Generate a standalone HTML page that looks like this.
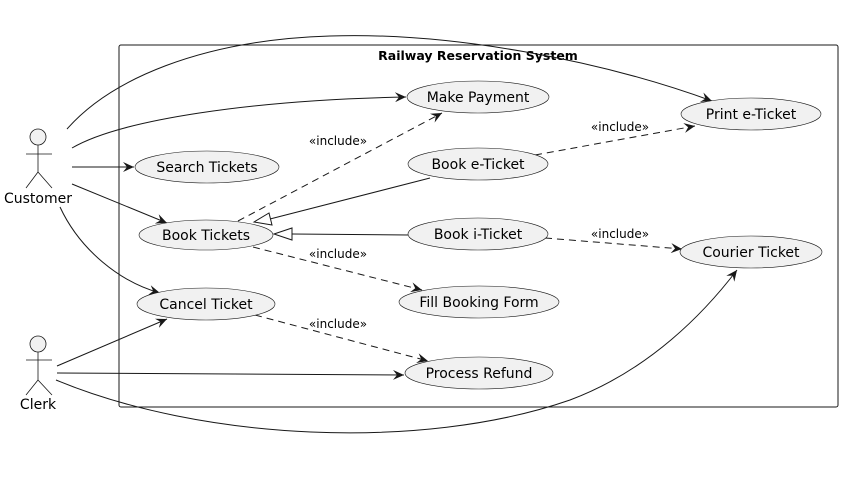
<!DOCTYPE html>
<html><head><meta charset="utf-8"><style>
html,body{margin:0;padding:0;background:#fff;width:843px;height:482px;overflow:hidden}
svg text{font-family:"DejaVu Sans","Liberation Sans",sans-serif}
</style></head><body>
<svg width="843" height="482" viewBox="0 0 843 482" xmlns="http://www.w3.org/2000/svg">
<defs>
<marker id="a" markerWidth="12" markerHeight="10" refX="11" refY="5" orient="auto" markerUnits="userSpaceOnUse">
<path d="M0,0 L11,5 L0,10 L4,5 Z" fill="#181818"/>
</marker>
</defs>
<rect x="119" y="45" width="719" height="362" rx="2" fill="none" stroke="#181818" stroke-width="1"/>
<text x="478" y="60" font-size="12.5" font-weight="bold" text-anchor="middle" fill="#000">Railway Reservation System</text>

<g fill="none" stroke="#181818" stroke-width="1">
<path d="M67,129 C110,80 200,40 330,36 C450,32 600,60 712,101" marker-end="url(#a)"/>
<path d="M72,148 C120,120 250,100 406,97" marker-end="url(#a)"/>
<path d="M72,167 L134,167" marker-end="url(#a)"/>
<path d="M72,184 L167,223" marker-end="url(#a)"/>
<path d="M60,207 C80,250 120,282 160,293" marker-end="url(#a)"/>
<path d="M57,366 L167,319" marker-end="url(#a)"/>
<path d="M57,373 L404,375" marker-end="url(#a)"/>
<path d="M56,380 C200,440 420,452 570,400 C650,370 705,312 737,270" marker-end="url(#a)"/>
<g stroke-dasharray="7,5">
<path d="M238,221 L442,113" marker-end="url(#a)"/>
<path d="M535,155 L695,126" marker-end="url(#a)"/>
<path d="M545,238 L682,249" marker-end="url(#a)"/>
<path d="M253,247 L422,290" marker-end="url(#a)"/>
<path d="M255,315 L428,361" marker-end="url(#a)"/>
</g>
<path d="M430,178 L270,219"/>
<path d="M254,222 L269,213 L272,225 Z" fill="#fff"/>
<path d="M409,235 L292,234"/>
<path d="M274,234 L292,228 L292,240 Z" fill="#fff"/>
</g>

<g font-size="12" fill="#000" text-anchor="middle">
<text x="338" y="145">«include»</text>
<text x="620" y="131">«include»</text>
<text x="620" y="238">«include»</text>
<text x="338" y="258">«include»</text>
<text x="338" y="328">«include»</text>
</g>

<g fill="#f1f1f1" stroke="#181818" stroke-width="0.6">
<ellipse cx="478" cy="97" rx="71" ry="16"/>
<ellipse cx="751" cy="114" rx="70" ry="16"/>
<ellipse cx="207" cy="167" rx="72" ry="16"/>
<ellipse cx="478" cy="164" rx="70" ry="16"/>
<ellipse cx="206" cy="235" rx="67" ry="15"/>
<ellipse cx="478" cy="234" rx="70" ry="16"/>
<ellipse cx="751" cy="252" rx="71" ry="16"/>
<ellipse cx="479" cy="302" rx="80" ry="16"/>
<ellipse cx="206" cy="304" rx="69" ry="16"/>
<ellipse cx="479" cy="373" rx="74" ry="16"/>
</g>
<g font-size="14" fill="#000" text-anchor="middle">
<text x="478" y="102">Make Payment</text>
<text x="751" y="119">Print e-Ticket</text>
<text x="207" y="172">Search Tickets</text>
<text x="478" y="169">Book e-Ticket</text>
<text x="206" y="240">Book Tickets</text>
<text x="478" y="239">Book i-Ticket</text>
<text x="751" y="257">Courier Ticket</text>
<text x="479" y="307">Fill Booking Form</text>
<text x="206" y="309">Cancel Ticket</text>
<text x="479" y="378">Process Refund</text>
</g>

<g stroke="#181818" stroke-width="0.8" fill="none">
<circle cx="38" cy="137" r="8" fill="#f1f1f1"/>
<path d="M38,145 L38,172 M26,154 L52,154 M38,172 L26,188 M38,172 L52,188"/>
<circle cx="38" cy="344" r="8" fill="#f1f1f1"/>
<path d="M38,352 L38,380 M26,360 L52,360 M38,380 L26,395 M38,380 L52,395"/>
</g>
<g font-size="14" fill="#000" text-anchor="middle">
<text x="38" y="203">Customer</text>
<text x="38" y="409">Clerk</text>
</g>
</svg>
</body></html>
